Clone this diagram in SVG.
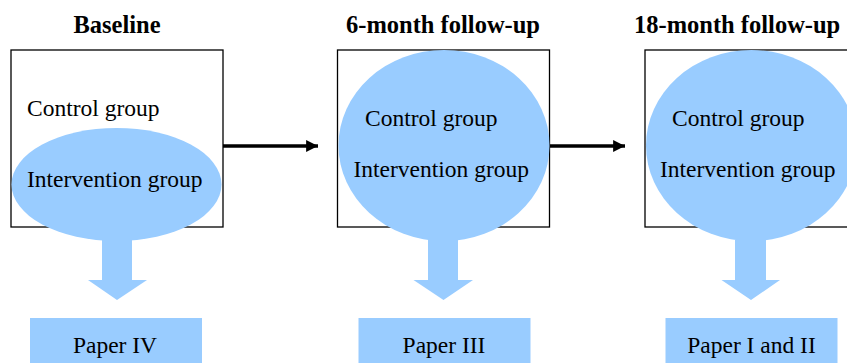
<svg xmlns="http://www.w3.org/2000/svg" width="847" height="363" viewBox="0 0 847 363">
<style>
.box{fill:#fff;stroke:#000;stroke-width:1.3}
.blue{fill:#99CCFF}
.conn{stroke:#000;stroke-width:3.5;fill:none}
</style>
<defs>
<marker id="ah" viewBox="0 0 10 10" refX="10" refY="5" markerWidth="4" markerHeight="3.4" markerUnits="strokeWidth" orient="auto">
<path d="M0,0 L10,5 L0,10 z" fill="#000"/>
</marker>
</defs>
<g id="connectors">
<line class="conn" x1="223" y1="146" x2="318" y2="146" marker-end="url(#ah)"/>
<line class="conn" x1="549" y1="146" x2="625" y2="146" marker-end="url(#ah)"/>
</g>
<g font-family="Liberation Serif, Times New Roman, serif" fill="#000">
<g id="baseline">
<text x="117" y="33" text-anchor="middle" font-weight="bold" font-size="24.5">Baseline</text>
<rect class="box" x="11" y="50" width="212" height="177"/>
<text x="27" y="116" font-size="23.5">Control group</text>
<ellipse class="blue" cx="116.5" cy="184.5" rx="105" ry="56.5"/>
<text x="27" y="187" font-size="23.5">Intervention group</text>
<path class="blue" d="M102,240 L132,240 L132,280 L147,280 L117,300 L88,280 L102,280 z"/>
<rect class="blue" x="30" y="318" width="172" height="50"/>
<text x="115" y="353" text-anchor="middle" font-size="23.5">Paper IV</text>
</g>
<g id="six-month">
<text x="443" y="33" text-anchor="middle" font-weight="bold" font-size="24.5">6-month follow-up</text>
<rect class="box" x="337.5" y="50" width="212" height="177"/>
<ellipse class="blue" cx="444" cy="145.5" rx="105.5" ry="95.5"/>
<text x="365" y="126" font-size="23.5">Control group</text>
<text x="353.5" y="177" font-size="23.5">Intervention group</text>
<path class="blue" d="M428,240 L458,240 L458,280 L473,280 L443.5,300 L413.5,280 L428,280 z"/>
<rect class="blue" x="358.5" y="318" width="172" height="50"/>
<text x="444" y="353" text-anchor="middle" font-size="23.5">Paper III</text>
</g>
<g id="eighteen-month">
<text x="634" y="33" font-weight="bold" font-size="24.5">18-month follow-up</text>
<rect class="box" x="645" y="50" width="212" height="177"/>
<ellipse class="blue" cx="751.5" cy="145.5" rx="105.5" ry="95.5"/>
<text x="672" y="126" font-size="23.5">Control group</text>
<text x="660" y="177" font-size="23.5">Intervention group</text>
<path class="blue" d="M735,240 L766,240 L766,280 L780,280 L751,300 L721.5,280 L735,280 z"/>
<rect class="blue" x="665.5" y="318" width="172" height="50"/>
<text x="751.5" y="353" text-anchor="middle" font-size="23.5">Paper I and II</text>
</g>
</g>
</svg>
